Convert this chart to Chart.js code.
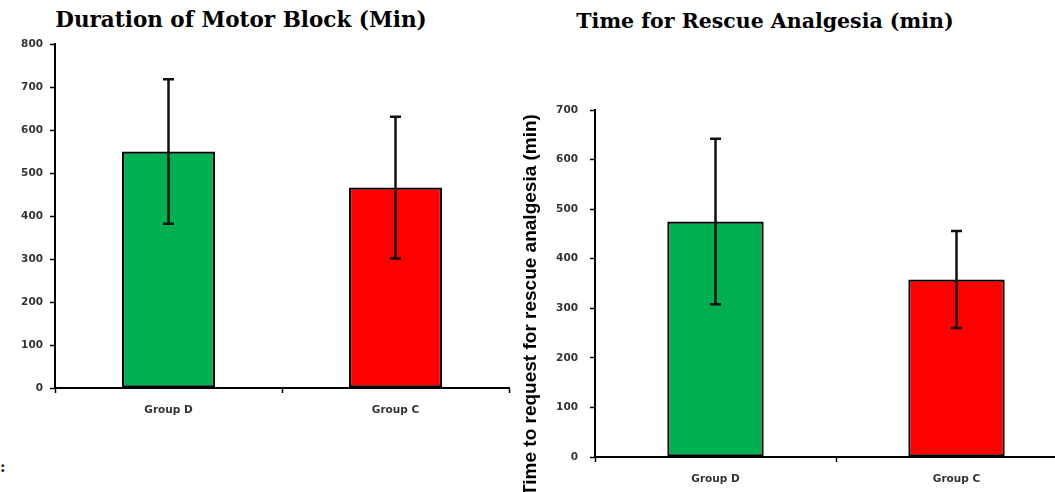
<!DOCTYPE html>
<html>
<head>
<meta charset="utf-8">
<script src="https://cdn.jsdelivr.net/npm/chart.js@4"></script>
<style>
  html, body { margin: 0; padding: 0; background: #fff; width: 1055px; height: 492px; overflow: hidden; }
  #wrap { position: relative; width: 1055px; height: 492px; overflow: hidden; }
  canvas { position: absolute; }
  .title { position: absolute; font-family: "DejaVu Serif", serif; font-weight: bold; color: #000; white-space: nowrap; transform: translateX(-50%); line-height: 1; }
  .mark { position: absolute; font-family: "DejaVu Serif", serif; font-weight: bold; font-size: 15px; color: #000; }
</style>
</head>
<body>
<div id="wrap">
  <div class="title" style="left:241px; top:9px; font-size:21.5px;">Duration of Motor Block (Min)</div>
  <div class="title" style="left:765px; top:11px; font-size:20.5px;">Time for Rescue Analgesia (min)</div>
  <div class="mark" style="left:0px; top:458px;">:</div>
  <canvas id="c1" width="520" height="430" style="left:0px; top:0px;"></canvas>
  <canvas id="c2" width="610" height="492" style="left:475px; top:0px;"></canvas>
</div>
<script>
// ---- data ----
const groups = ["Group D", "Group C"];
const motorMean = [550, 466];
const motorSd = [168, 165];
const rescueMean = [475, 358];
const rescueSd = [167, 98];
const barColors = ["#00B050", "#FF0000"];
const motorMax = 800;
const rescueMax = 700;
const tickStep = 100;
const rescueAxisTitle = "Time to request for rescue analgesia (min)";

// ---- error bar plugin (uses the chart's own scales) ----
const errorBarPlugin = {
  id: 'errorBars',
  afterDatasetsDraw(chart, args, opts) {
    const sd = opts.sd || [];
    const meta = chart.getDatasetMeta(0);
    const values = chart.data.datasets[0].data;
    const y = chart.scales.y;
    const ctx = chart.ctx;
    ctx.save();
    ctx.strokeStyle = '#111';
    ctx.lineWidth = 2.5;
    meta.data.forEach((bar, i) => {
      const x = bar.x;
      const yTop = y.getPixelForValue(values[i] + sd[i]);
      const yBot = y.getPixelForValue(values[i] - sd[i]);
      const cap = opts.cap || 5;
      ctx.beginPath();
      ctx.moveTo(x, yTop); ctx.lineTo(x, yBot);
      ctx.moveTo(x - cap, yTop); ctx.lineTo(x + cap, yTop);
      ctx.moveTo(x - cap, yBot); ctx.lineTo(x + cap, yBot);
      ctx.stroke();
    });
    ctx.restore();
  }
};

// ---- rotated y-axis title placed relative to the chart area ----
const yTitlePlugin = {
  id: 'yTitle',
  afterDraw(chart, args, opts) {
    if (!opts.text) return;
    const ctx = chart.ctx;
    const a = chart.chartArea;
    ctx.save();
    ctx.translate(a.left + opts.dx, a.bottom + opts.dy);
    ctx.rotate(-Math.PI / 2);
    ctx.textAlign = 'center';
    ctx.textBaseline = 'middle';
    ctx.fillStyle = '#000';
    ctx.font = opts.font;
    ctx.fillText(opts.text, 0, 0);
    ctx.restore();
  }
};

function makeChart(id, means, sds, max, cfg) {
  const tickFont = { family: "'DejaVu Sans', sans-serif", size: 10.5, weight: 'bold' };
  return new Chart(document.getElementById(id), {
    type: 'bar',
    data: {
      labels: groups,
      datasets: [{
        data: means,
        backgroundColor: barColors,
        borderColor: '#000',
        borderWidth: 2.2,
        borderSkipped: false,
        categoryPercentage: 1,
        barPercentage: cfg.barPct
      }]
    },
    options: {
      responsive: false,
      animation: false,
      events: [],
      layout: { padding: cfg.padding },
      plugins: {
        legend: { display: false },
        tooltip: { enabled: false },
        title: { display: false },
        errorBars: { sd: sds, cap: 5.5 },
        yTitle: cfg.yTitle || {}
      },
      scales: {
        x: {
          offset: true,
          border: { color: '#000', width: 2 },
          grid: { display: true, offset: true, drawOnChartArea: false, drawTicks: true, tickLength: 5, tickColor: '#000', tickWidth: 1.5 },
          ticks: { color: '#333', font: tickFont, padding: 11 },
          afterFit: (s) => { s.height = cfg.xHeight; }
        },
        y: {
          min: 0, max: max,
          border: { color: '#000', width: 2 },
          grid: { display: true, drawOnChartArea: false, drawTicks: true, tickLength: 5, tickColor: '#000', tickWidth: 1.5 },
          ticks: { stepSize: tickStep, color: '#333', font: tickFont, padding: cfg.yPad },
          afterFit: (s) => { s.width = cfg.yWidth; }
        }
      }
    },
    plugins: [errorBarPlugin, yTitlePlugin]
  });
}

makeChart('c1', motorMean, motorSd, motorMax, {
  barPct: 0.41,
  padding: { top: 44, right: 11, left: 0, bottom: 0 },
  xHeight: 42,
  yWidth: 55,
  yPad: 7
});

makeChart('c2', rescueMean, rescueSd, rescueMax, {
  barPct: 0.40,
  padding: { top: 110, right: 8, left: 42, bottom: 0 },
  xHeight: 35,
  yWidth: 78,
  yPad: 12,
  yTitle: { text: rescueAxisTitle, dx: -64, dy: -152, font: "bold 19px 'Liberation Sans', Arial, sans-serif" }
});
</script>
</body>
</html>
